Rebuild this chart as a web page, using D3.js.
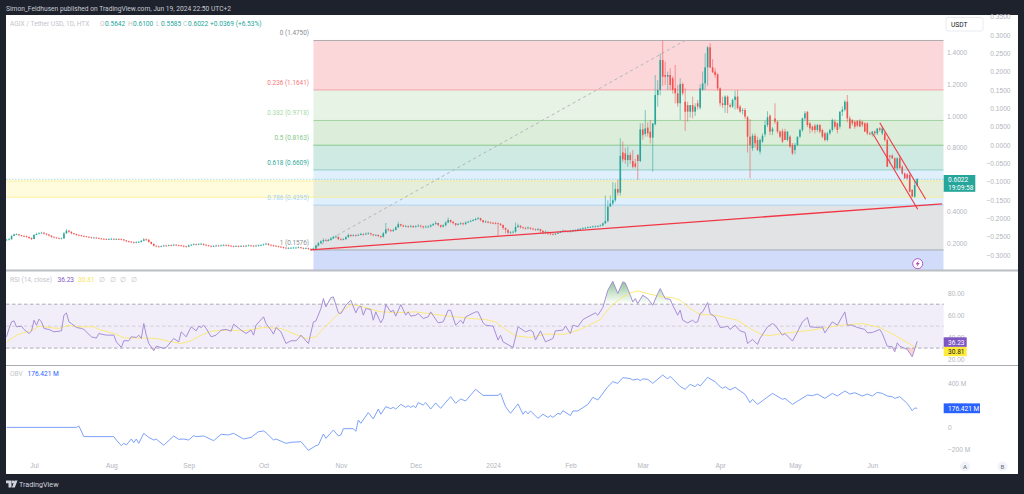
<!DOCTYPE html>
<html>
<head>
<meta charset="utf-8">
<script src="https://cdn.jsdelivr.net/npm/d3@7"></script>
<style>
  html, body { margin: 0; padding: 0; background: #1e222d; overflow: hidden; }
  svg { display: block; font-family: Roboto, "Liberation Sans", sans-serif; }
</style>
</head>
<body>
<script>
// daily candles, first one is Jun 20 2023, last one Jun 19 2024
const startDay = new Date(Date.UTC(2023, 5, 20));

const opens = [
.220,.222,.224,.245,.255,.256,.250,.246,.244,.240,
.233,.226,.252,.258,.262,.266,.260,.255,.248,.240,
.236,.232,.230,.230,.262,.279,.272,.262,.258,.252,
.250,.246,.244,.240,.237,.234,.235,.232,.229,.228,
.226,.225,.226,.227,.226,.226,.225,.224,.218,.212,
.210,.206,.204,.206,.208,.215,.224,.222,.208,.196,
.184,.180,.178,.181,.185,.183,.187,.186,.190,.188,
.186,.184,.180,.178,.186,.190,.193,.192,.195,.196,
.190,.187,.183,.180,.182,.185,.184,.186,.188,.187,
.184,.181,.180,.182,.180,.183,.181,.184,.186,.184,
.183,.185,.186,.188,.192,.197,.190,.186,.184,.182,
.178,.176,.172,.168,.170,.171,.172,.172,.174,.170,
.168,.169,.165,.158,.165,.185,.200,.212,.220,.218,
.220,.230,.238,.241,.226,.223,.225,.238,.252,.246,
.250,.248,.252,.258,.255,.260,.262,.256,.250,.252,
.245,.240,.262,.287,.282,.276,.283,.300,.320,.312,
.306,.308,.304,.308,.302,.306,.310,.306,.300,.304,
.304,.312,.320,.327,.315,.304,.312,.330,.346,.335,
.326,.315,.320,.325,.320,.330,.335,.340,.346,.352,
.357,.345,.333,.336,.330,.328,.327,.326,.322,.315,
.296,.285,.266,.268,.272,.302,.310,.300,.296,.294,
.298,.292,.289,.286,.289,.278,.266,.272,.262,.258,
.256,.260,.266,.272,.279,.275,.272,.276,.279,.282,
.287,.290,.294,.297,.300,.302,.305,.306,.308,.312,
.325,.340,.430,.450,.470,.541,
.518,.771,.765,.723,.755,.717,.702,.755,.717,.916,
.887,.927,.901,.864,.948,1.132,1.164,1.352,1.258,1.247,
1.258,1.237,1.174,1.143,1.080,1.201,1.090,1.069,1.027,1.069,
1.027,1.080,1.052,1.164,1.205,1.306,1.432,1.306,1.279,1.262,
1.174,1.080,1.069,1.122,1.069,1.059,1.101,1.122,1.059,1.038,
1.038,.992,.870,.797,.876,.849,.776,.839,.885,.943,
1.002,.902,.985,.964,.902,.905,.902,.850,.870,.818,
.786,.818,.870,.912,.985,1.027,.954,.933,.939,.912,
.943,.912,.891,.849,.891,.912,.964,.954,.933,1.027,
1.04,1.09,.985,.975,.964,.969,.969,.964,.954,.954,
.891,.885,.902,.891,.922,.891,.891,.849,.751,.751,
.734,.671,.734,.681,.639,.633,.629,.535,.493,.5642];

const highs = [
.226,.232,.252,.260,.262,.258,.252,.250,.248,.242,
.236,.258,.266,.270,.272,.270,.262,.256,.250,.242,
.238,.236,.236,.270,.288,.284,.274,.264,.260,.256,
.252,.250,.246,.243,.240,.240,.238,.236,.233,.232,
.230,.232,.234,.232,.232,.231,.230,.226,.220,.216,
.212,.210,.212,.214,.220,.232,.230,.224,.210,.198,
.186,.184,.186,.190,.190,.192,.192,.196,.194,.192,
.190,.188,.184,.192,.196,.199,.198,.201,.203,.198,
.194,.190,.186,.188,.191,.190,.192,.194,.193,.191,
.187,.186,.188,.187,.189,.188,.190,.192,.190,.189,
.191,.192,.194,.198,.204,.199,.192,.190,.188,.184,
.182,.178,.174,.175,.176,.178,.178,.180,.176,.174,
.174,.172,.166,.172,.192,.208,.218,.230,.228,.228,
.238,.246,.250,.240,.232,.232,.244,.260,.255,.256,
.256,.260,.266,.263,.268,.270,.266,.258,.258,.254,
.248,.270,.327,.296,.288,.292,.308,.335,.322,.316,
.316,.312,.316,.312,.314,.320,.316,.310,.312,.314,
.320,.328,.338,.328,.314,.320,.338,.362,.348,.338,
.325,.328,.332,.330,.338,.342,.348,.352,.360,.366,
.360,.342,.344,.338,.336,.334,.334,.330,.326,.316,
.298,.276,.276,.280,.330,.322,.312,.304,.302,.306,
.300,.296,.292,.296,.290,.280,.280,.272,.266,.264,
.266,.272,.278,.286,.282,.279,.282,.285,.288,.293,
.296,.300,.303,.306,.308,.311,.312,.314,.318,.330,
.50,.47,.50,.585,.58,.60,
.86,.84,.80,.807,.77,.786,.73,.76,.954,.954,
1.038,.96,.975,.954,1.258,1.226,1.394,1.474,1.342,1.279,
1.30,1.25,1.321,1.195,1.237,1.21,1.174,1.09,1.06,1.122,
1.08,1.10,1.20,1.28,1.394,1.44,1.457,1.358,1.30,1.27,
1.18,1.122,1.13,1.13,1.08,1.11,1.16,1.164,1.07,1.05,
1.05,1.0,.98,.89,.89,.87,.86,.89,.97,1.03,
1.01,.93,1.08,.97,.91,.92,.92,.905,.88,.83,
.83,.87,.92,.99,1.03,1.03,.96,.94,.95,.95,
.95,.92,.90,.90,.92,.985,.98,.96,1.03,1.06,
1.10,1.132,1.0,.98,.97,.975,.98,.97,.96,.96,
.90,.905,.91,.92,.93,.935,.90,.86,.755,.76,
.74,.74,.75,.69,.645,.64,.64,.54,.60,.61];

const lows = [
.218,.218,.224,.246,.250,.244,.240,.238,.234,.226,
.220,.226,.250,.255,.258,.254,.248,.242,.234,.230,
.228,.225,.225,.228,.258,.265,.256,.252,.246,.244,
.240,.238,.235,.232,.229,.230,.227,.225,.223,.221,
.220,.221,.222,.221,.221,.220,.218,.212,.206,.204,
.200,.198,.200,.203,.204,.212,.215,.204,.192,.180,
.174,.172,.174,.178,.178,.180,.180,.184,.182,.180,
.178,.174,.172,.174,.184,.186,.186,.188,.190,.184,
.181,.178,.174,.176,.178,.178,.180,.182,.181,.178,
.175,.174,.176,.174,.176,.175,.177,.180,.178,.177,
.179,.180,.182,.184,.190,.184,.180,.178,.176,.172,
.170,.166,.162,.164,.165,.166,.166,.168,.164,.162,
.163,.158,.150,.156,.162,.182,.196,.206,.212,.212,
.216,.226,.234,.220,.216,.218,.222,.234,.240,.242,
.242,.246,.250,.248,.252,.254,.248,.244,.244,.238,
.232,.236,.258,.274,.270,.272,.280,.296,.304,.300,
.300,.296,.298,.295,.298,.302,.298,.292,.296,.296,
.300,.310,.316,.306,.296,.298,.306,.326,.326,.318,
.306,.312,.316,.312,.316,.326,.332,.338,.342,.348,
.338,.326,.328,.324,.322,.320,.318,.247,.308,.285,
.262,.255,.258,.262,.266,.296,.292,.288,.286,.288,
.284,.282,.278,.278,.262,.256,.258,.252,.250,.250,
.250,.258,.264,.268,.268,.265,.266,.270,.274,.278,
.283,.286,.290,.293,.296,.298,.300,.300,.304,.306,
.32,.33,.43,.44,.46,.50,
.50,.71,.70,.681,.70,.671,.67,.598,.71,.85,
.87,.87,.828,.65,.94,1.059,1.13,1.19,1.195,1.164,
1.164,1.14,1.08,1.059,.975,1.13,.906,.964,.99,.985,
1.0,1.04,1.04,1.16,1.164,1.19,1.30,1.27,1.24,1.16,
1.06,1.05,1.02,1.017,1.05,1.05,1.04,1.04,1.02,1.01,
.98,.77,.608,.78,.80,.78,.76,.83,.87,.93,
.88,.88,.95,.89,.86,.83,.85,.84,.80,.755,
.76,.81,.86,.90,.97,.93,.891,.90,.89,.90,
.89,.86,.84,.84,.88,.90,.92,.89,.92,1.0,
1.03,.96,.92,.94,.92,.93,.93,.93,.90,.88,
.88,.87,.88,.88,.90,.88,.84,.68,.70,.73,
.66,.66,.67,.63,.605,.60,.52,.49,.485,.5585];

const closes = [
.222,.224,.245,.255,.256,.250,.246,.244,.240,.233,
.226,.252,.258,.262,.266,.260,.255,.248,.240,.236,
.232,.230,.230,.262,.279,.272,.262,.258,.252,.250,
.246,.244,.240,.237,.234,.235,.232,.229,.228,.226,
.225,.226,.227,.226,.226,.225,.224,.218,.212,.210,
.206,.204,.206,.208,.215,.224,.222,.208,.196,.184,
.180,.178,.181,.185,.183,.187,.186,.190,.188,.186,
.184,.180,.178,.186,.190,.193,.192,.195,.196,.190,
.187,.183,.180,.182,.185,.184,.186,.188,.187,.184,
.181,.180,.182,.180,.183,.181,.184,.186,.184,.183,
.185,.186,.188,.192,.197,.190,.186,.184,.182,.178,
.176,.172,.168,.170,.171,.172,.172,.174,.170,.168,
.169,.165,.158,.165,.185,.200,.212,.220,.218,.220,
.230,.238,.241,.226,.223,.225,.238,.252,.246,.250,
.248,.252,.258,.255,.260,.262,.256,.250,.252,.245,
.240,.262,.287,.282,.276,.283,.300,.320,.312,.306,
.308,.304,.308,.302,.306,.310,.306,.300,.304,.304,
.312,.320,.327,.315,.304,.312,.330,.346,.335,.326,
.315,.320,.325,.320,.330,.335,.340,.346,.352,.357,
.345,.333,.336,.330,.328,.327,.326,.322,.315,.296,
.285,.266,.268,.272,.302,.310,.300,.296,.294,.298,
.292,.289,.286,.289,.278,.266,.272,.262,.258,.256,
.260,.266,.272,.279,.275,.272,.276,.279,.282,.287,
.290,.294,.297,.300,.302,.305,.306,.308,.312,.325,
.340,.430,.450,.470,.541,.518,
.750,.727,.723,.755,.723,.681,.681,.717,.916,.880,
.922,.891,.864,.954,1.132,1.164,1.352,1.247,1.247,1.258,
1.195,1.164,1.143,1.080,1.201,1.143,1.027,1.027,1.069,1.027,
1.059,1.059,1.174,1.205,1.306,1.432,1.306,1.275,1.258,1.174,
1.080,1.069,1.122,1.069,1.059,1.101,1.122,1.048,1.027,1.038,
.996,.870,.818,.876,.828,.786,.849,.876,.943,.992,
.902,.920,.964,.902,.870,.839,.849,.902,.807,.765,
.818,.870,.912,.985,1.017,.943,.922,.912,.912,.943,
.902,.870,.849,.891,.912,.975,.933,.912,1.027,1.04,
1.09,.985,.922,.954,.933,.939,.933,.945,.902,.891,
.885,.902,.891,.922,.912,.922,.849,.681,.744,.734,
.671,.734,.671,.639,.608,.608,.524,.493,.5653,.6022];

// fib retracement
const fibRatios = ["0", "0.236", "0.382", "0.5", "0.618", "0.786", "1"];
const fibPrices = [1.4750, 1.1641, 0.9718, 0.8163, 0.6609, 0.4395, 0.1576];
const fibLineColors = ["#aeaaae", "#f5a3a8", "#a0d4a2", "#8ac78c", "#93cfc5", "#aed5f0", "#a9aaae"];
const fibFillColors = ["#fcd7da", "#e7f3e5", "#dcedda", "#cfe9e3", "#dfeffc", "#e2e3e5", "#d1dcfb"];
const fibTextColors = ["#8a8d94", "#f7777d", "#a8d8aa", "#7fc583", "#2fa99c", "#a5d2f5", "#8a8d94"];
const fibStartDay = 123;

// drawings, day index / price
const fibDiagDays = [122, 272], fibDiagPrices = [0.1576, 1.4750];
const trendDays = [122, 375], trendPrices = [0.1576, 0.4475];
const chanUpperDays = [350, 368.4], chanUpperPrices = [0.958, 0.476];
const chanLowerDays = [347.3, 365.2], chanLowerPrices = [0.887, 0.413];
const zonePrices = [0.591, 0.489];
const lastPrice = 0.6022;

const rsiDays = [0,1,2,3,4,6,7,9,10,11,12,13,14,15,17,19,22,23,24,25,26,28,30,31,34,36,37,40,43,44,46,47,49,50,52,53,54,55,56,57,59,60,63,64,67,69,70,72,74,76,77,78,79,80,82,84,86,88,90,91,94,96,98,99,100,103,104,106,107,108,110,112,114,116,117,118,121,123,124,126,127,128,130,131,133,134,
136,138,140,141,142,143,144,146,147,148,150,151,152,154,155,156,158,160,161,162,164,165,167,169,170,173,175,177,178,180,182,183,184,188,189,191,192,195,197,198,199,203,205,207,208,210,211,212,214,216,219,220,223,224,226,227,229,231,233,236,237,239,241,243,245,247,248,250,251,252,253,255,257,259,261,262,264,266,267,269,270,
271,273,275,276,277,278,279,281,282,284,286,287,289,290,292,294,296,297,299,301,302,305,307,308,311,312,315,317,319,321,322,325,327,328,331,333,336,337,339,341,344,345,347,350,351,353,355,356,357,358,361,363,365];
const rsiValues = [40.3,47.9,53.9,54.8,49.4,50,47,43.3,45.4,55.4,50.9,56.4,53.9,47.9,47,44.8,45.7,60,62.1,53.9,52.4,48.8,47.9,47,40.3,39.1,43.3,41.8,41.8,35.7,30.6,36.7,36.7,40.3,39.7,41.8,38.8,52.4,41.8,34.2,27.6,31.8,29.7,30.6,38.8,35.7,44.8,40.3,49.4,45.7,50,48.8,50.9,47.9,40.3,41.8,46.4,47,45.4,51.8,46.4,43.3,46.4,41.8,50.9,58.5,52.4,46.4,42.7,48.8,44.8,34.2,36.7,36.7,38.8,41.8,34.2,53.9,54.8,66,75.1,67.6,76,76.6,62.1,61.5,
69.1,73.6,62.1,67,68.2,60,66,65.1,55.4,63,53,57,69.7,63,64.5,59.1,69.7,60,63,59.1,60,61.5,57,58.5,63,53,53.9,64.5,64.5,50.9,55.4,52.4,58.5,63,63,53,50.9,50,37.3,41.8,35.7,30.6,49.4,46.4,44.8,46.4,44.8,37.3,45.7,35.7,38.8,45.7,46.4,50,43.3,50.9,49.4,56,58.5,62.1,60,67,82.7,90.9,79.7,90.3,89.4,78.2,72.1,75.1,70.6,78.2,75.1,69.1,79.7,84.2,75.1,74.5,69.1,60,64.5,
55.4,53,55.4,53.3,53.9,61.5,63,71.5,61.5,58.5,48.8,48.8,50,47,50.9,45.7,44.2,34.2,37.9,33.3,38.8,49.4,52.4,50.9,41.8,43.3,36.4,44.8,53.9,57.9,49.4,48.8,49.4,43.9,53.9,50.9,63,50.9,50.9,48.8,47,43.9,44.2,47,43.3,31.8,31.2,26.7,34.8,31.8,28.8,22.1,36.23];

const rsiMaDays = [0,4,8,11,13,17,21,25,29,35,37,43,47,55,60,64,70,74,78,82,88,95,103,110,115,120,124,127,131,134,138,142,150,158,164,174,186,192,196,200,204,210,216,224,230,238,242,246,250,253,258,263,267,270,274,278,284,293,298,303,306,314,323,329,335,343,350,356,364,365];
const rsiMaValues = [35.7,41.8,44.8,47,50,48.8,47.9,50.9,49.4,49.4,47,43.3,39.4,39.1,38.8,36.7,34.2,36.7,41.8,45.4,46.4,45.7,48.8,47.9,43.3,38.8,40.3,47.9,57,63,69.7,68.2,63,62.4,63,60,57,56,53.9,47,41.2,39.7,42.7,42.7,47,56,67.6,75.1,80.3,82.1,79.1,76.7,76,73.6,66,60.6,60,55.4,47.9,41.8,41.5,44.2,46.4,48.8,50.9,52.4,48.8,41.8,31.2,30.81];

const obvDays = [0,28,29,31,43,44,46,47,48,50,51,52,53,55,57,59,60,63,67,69,71,73,75,76,79,83,86,89,91,95,98,101,103,104,107,108,112,114,118,121,124,125,127,128,131,133,134,
135,139,140,141,142,145,147,149,150,152,154,155,156,158,160,161,162,163,164,165,167,168,170,172,174,178,180,182,184,188,191,197,198,200,202,205,207,208,209,210,213,215,217,218,219,221,222,223,226,227,229,233,235,237,241,243,245,247,250,251,253,254,255,257,259,263,265,266,270,
272,274,276,277,278,281,284,286,287,288,290,292,296,298,299,301,307,311,312,315,321,323,325,328,331,333,336,338,340,343,345,347,349,351,353,355,356,358,361,363,364,365];
const obvValues = [3,3,15,-81,-81,-112,-163,-142,-157,-103,-136,-103,-142,-51,-88,-112,-103,-160,-75,-106,-103,-112,-72,-81,-75,-118,-60,-66,-51,-103,-88,-36,-30,-45,-112,-103,-142,-133,-127,-206,-163,-157,-57,-97,-21,-75,-66,
-9,-9,-33,70,40,137,79,170,122,191,173,185,170,212,185,200,185,200,182,228,206,228,170,225,176,282,222,261,243,349,294,294,312,191,131,216,122,152,125,152,85,122,94,110,94,131,122,155,110,152,152,212,276,252,373,418,403,455,446,434,443,428,443,440,403,479,443,467,375,
349,394,373,397,379,458,418,373,358,373,343,367,303,228,258,212,312,258,267,212,297,291,306,267,312,288,334,306,318,288,306,288,321,312,288,282,267,282,221,155,179,176.421];

// axis ticks
const priceTicks = [1.4, 1.2, 1.0, 0.8, 0.4, 0.2];
const outerTicks = [0.35, 0.3, 0.25, 0.2, 0.15, 0.1, 0.05, 0, -0.05, -0.1, -0.15, -0.2, -0.25, -0.3];
const rsiTicks = [80, 60, 40, 20];
const rsiLevels = [70, 50, 30];
const obvTicks = [400, 200, 0, -200];
const monthDates = [[2023,6],[2023,7],[2023,8],[2023,9],[2023,10],[2023,11],[2024,0],[2024,1],[2024,2],[2024,3],[2024,4],[2024,5]];
const monthNames = ["Jul", "Aug", "Sep", "Oct", "Nov", "Dec", "2024", "Feb", "Mar", "Apr", "May", "Jun"];

const up = "#26a69a", down = "#ef5350", red = "#f23645";
const axisGrey = "#b2b5be";
const plotL = 6, plotR = 943.7, priceB = 270;

const svg = d3.select("body").append("svg").attr("width", 1024).attr("height", 494);
const defs = svg.append("defs");

svg.append("rect").attr("x", plotL).attr("y", 15).attr("width", 1012).attr("height", 459).attr("fill", "#fff");

const dayDate = i => d3.utcDay.offset(startDay, Math.floor(i)).getTime() + (i % 1) * 864e5;
const x = d3.scaleUtc()
  .domain([Date.UTC(2023, 6, 1), Date.UTC(2024, 5, 19)])
  .range([34, 917.2]);
const xd = i => x(dayDate(i));

const yPrice = d3.scaleLinear().domain([0.2, 1.4]).range([243.2, 52.4]);
const yOuter = d3.scaleLinear().domain([-0.3, 0.35]).range([255, 16.7]);
const yRsi = d3.scaleLinear().domain([30, 70]).range([348.1, 304.2]);
const yObv = d3.scaleLinear().domain([-200, 400]).range([449.7, 383.7]);

defs.append("clipPath").attr("id", "pricePane").append("rect")
  .attr("x", plotL).attr("y", 15).attr("width", plotR - plotL).attr("height", priceB - 15);
defs.append("clipPath").attr("id", "aboveRsi").append("rect")
  .attr("x", plotL).attr("y", 271).attr("width", plotR - plotL).attr("height", yRsi(70) - 271);
defs.append("clipPath").attr("id", "belowRsi").append("rect")
  .attr("x", plotL).attr("y", yRsi(30)).attr("width", plotR - plotL).attr("height", 365 - yRsi(30));

const price = svg.append("g").attr("clip-path", "url(#pricePane)");

// fib bands, the last one runs off the pane
const fibLeft = xd(fibStartDay);
price.selectAll("rect.fib").data(fibPrices).enter().append("rect")
  .attr("class", "fib")
  .attr("x", fibLeft)
  .attr("y", d => yPrice(d))
  .attr("width", plotR - fibLeft)
  .attr("height", (d, i) => (i < fibPrices.length - 1 ? yPrice(fibPrices[i + 1]) : priceB) - yPrice(d))
  .attr("fill", (d, i) => fibFillColors[i]);
price.selectAll("line.fib").data(fibPrices).enter().append("line")
  .attr("class", "fib")
  .attr("x1", fibLeft).attr("x2", plotR)
  .attr("y1", d => yPrice(d)).attr("y2", d => yPrice(d))
  .attr("stroke", (d, i) => fibLineColors[i]).attr("stroke-width", 1);

// yellow zone across the whole pane
price.append("rect")
  .attr("x", plotL).attr("width", plotR - plotL)
  .attr("y", yPrice(zonePrices[0]))
  .attr("height", yPrice(zonePrices[1]) - yPrice(zonePrices[0]))
  .attr("fill", "#ffeb3b").attr("fill-opacity", 0.17);
zonePrices.forEach(function(p) {
  price.append("line").attr("x1", plotL).attr("x2", plotR)
    .attr("y1", yPrice(p)).attr("y2", yPrice(p))
    .attr("stroke", "#fbeb8c").attr("stroke-width", 0.8);
});

// fib diagonal
price.append("line")
  .attr("x1", xd(fibDiagDays[0])).attr("y1", yPrice(fibDiagPrices[0]))
  .attr("x2", xd(fibDiagDays[1])).attr("y2", yPrice(fibDiagPrices[1]))
  .attr("stroke", "#b4b5b8").attr("stroke-width", 1).attr("stroke-dasharray", "3 3");

// candles
closes.forEach(function(c, i) {
  var o = opens[i];
  var col = c >= o ? up : down;
  price.append("line")
    .attr("x1", xd(i)).attr("x2", xd(i))
    .attr("y1", yPrice(highs[i])).attr("y2", yPrice(lows[i]))
    .attr("stroke", col).attr("stroke-width", 0.8).attr("stroke-opacity", 0.7);
  price.append("rect")
    .attr("x", xd(i) - 0.8).attr("width", 1.6)
    .attr("y", yPrice(Math.max(o, c)))
    .attr("height", Math.max(0.7, Math.abs(yPrice(o) - yPrice(c))))
    .attr("fill", col);
});

// last price dotted line
price.append("line").attr("x1", plotL).attr("x2", plotR)
  .attr("y1", yPrice(lastPrice)).attr("y2", yPrice(lastPrice))
  .attr("stroke", up).attr("stroke-opacity", 0.5).attr("stroke-width", 0.7).attr("stroke-dasharray", "1.5 1.5");

// trend line and channel
[[trendDays, trendPrices, 1.3], [chanUpperDays, chanUpperPrices, 1.1], [chanLowerDays, chanLowerPrices, 1.1]].forEach(function(t) {
  price.append("line")
    .attr("x1", xd(t[0][0])).attr("y1", yPrice(t[1][0]))
    .attr("x2", xd(t[0][1])).attr("y2", yPrice(t[1][1]))
    .attr("stroke", red).attr("stroke-width", t[2]);
});

// fib labels
svg.selectAll("text.fib").data(fibPrices).enter().append("text")
  .attr("class", "fib")
  .attr("x", 309).attr("y", d => yPrice(d) - 5.2)
  .attr("text-anchor", "end").attr("font-size", 6.4)
  .attr("fill", (d, i) => fibTextColors[i])
  .text((d, i) => fibRatios[i] + " (" + d.toFixed(4) + ")");

// panes
function cleanAxis(g) {
  g.select(".domain").remove();
  g.selectAll(".tick line").remove();
  g.selectAll("text").attr("fill", axisGrey).attr("font-size", 6.6).attr("font-family", null);
}

svg.append("g").attr("transform", "translate(947,0)")
  .call(d3.axisRight(yPrice).tickValues(priceTicks).tickFormat(d3.format(".4f")).tickSize(0).tickPadding(0))
  .call(cleanAxis);
svg.append("g").attr("transform", "translate(1010.5,0)")
  .call(d3.axisLeft(yOuter).tickValues(outerTicks).tickFormat(d3.format(".4f")).tickSize(0).tickPadding(0))
  .call(cleanAxis);

// rsi
const rsiPts = rsiDays.map((d, i) => [d, rsiValues[i]]);
const rsiMaPts = rsiMaDays.map((d, i) => [d, rsiMaValues[i]]);
const obvPts = obvDays.map((d, i) => [d, obvValues[i]]);
const rsiLine = d3.line().x(d => xd(d[0])).y(d => yRsi(d[1]));

svg.append("rect").attr("x", plotL).attr("width", plotR - plotL)
  .attr("y", yRsi(70)).attr("height", yRsi(30) - yRsi(70))
  .attr("fill", "#7e57c2").attr("fill-opacity", 0.1);

const greenGrad = defs.append("linearGradient").attr("id", "rsiOver")
  .attr("gradientUnits", "userSpaceOnUse").attr("x1", 0).attr("x2", 0).attr("y1", yRsi(92)).attr("y2", yRsi(70));
greenGrad.append("stop").attr("offset", 0).attr("stop-color", "#388e3c").attr("stop-opacity", 0.6);
greenGrad.append("stop").attr("offset", 1).attr("stop-color", "#4caf50").attr("stop-opacity", 0);
svg.append("path").datum(rsiPts).attr("clip-path", "url(#aboveRsi)").attr("fill", "url(#rsiOver)")
  .attr("d", d3.area().x(d => xd(d[0])).y0(yRsi(70)).y1(d => yRsi(d[1])));
svg.append("path").datum(rsiPts).attr("clip-path", "url(#belowRsi)").attr("fill", "#ef5350").attr("fill-opacity", 0.25)
  .attr("d", d3.area().x(d => xd(d[0])).y0(yRsi(30)).y1(d => yRsi(d[1])));

svg.selectAll("line.rsilevel").data(rsiLevels).enter().append("line")
  .attr("class", "rsilevel")
  .attr("x1", plotL).attr("x2", plotR)
  .attr("y1", d => yRsi(d)).attr("y2", d => yRsi(d))
  .attr("stroke", d => d == 50 ? "#c9c6cf" : "#9b98a3")
  .attr("stroke-width", 0.8).attr("stroke-dasharray", "3.5 2.5");

svg.append("path").datum(rsiMaPts).attr("fill", "none").attr("stroke", "#fbe97a").attr("stroke-width", 1).attr("d", rsiLine);
svg.append("path").datum(rsiPts).attr("fill", "none").attr("stroke", "#a78fd8").attr("stroke-width", 1).attr("d", rsiLine);

svg.append("g").attr("transform", "translate(948,0)")
  .call(d3.axisRight(yRsi).tickValues(rsiTicks).tickFormat(d3.format(".2f")).tickSize(0).tickPadding(0))
  .call(cleanAxis);

// obv
svg.append("path").datum(obvPts).attr("fill", "none").attr("stroke", "#7ea2fa").attr("stroke-width", 1)
  .attr("d", d3.line().x(d => xd(d[0])).y(d => yObv(d[1])));
svg.append("g").attr("transform", "translate(948,0)")
  .call(d3.axisRight(yObv).tickValues(obvTicks)
    .tickFormat(v => v == 0 ? "0" : (v < 0 ? "\u2212" + (-v) : v) + " M").tickSize(0).tickPadding(0))
  .call(cleanAxis);

// separators
[270.5, 365.5].forEach(function(y) {
  svg.append("line").attr("x1", plotL).attr("x2", 1018).attr("y1", y).attr("y2", y)
    .attr("stroke", y < 300 ? "#bcbec4" : "#a9abb0").attr("stroke-width", y < 300 ? 2 : 1);
});

// time axis
svg.append("g").attr("transform", "translate(0,463.5)")
  .call(d3.axisBottom(x)
    .tickValues(monthDates.map(d => new Date(Date.UTC(d[0], d[1], 1))))
    .tickFormat((d, i) => monthNames[i]).tickSize(0).tickPadding(0))
  .call(cleanAxis);

// text helper for legends and tags
function label(str, px, py, col, size, anchor, weight) {
  return svg.append("text").attr("x", px).attr("y", py).attr("fill", col)
    .attr("font-size", size || 6.6).attr("text-anchor", anchor || "start")
    .attr("font-weight", weight || null).text(str);
}

// header
label("Simon_Feldhusen published on TradingView.com, Jun 19, 2024 22:50 UTC+2", 6, 10.5, "#c8cbd3", 6.65);

// legends
label("AGIX / Tether USD, 1D, HTX", 10, 25.5, "#c3c5cb", 6.6);
[["O", "0.5642", 100], ["H", "0.6100", 128], ["L", "0.5585", 156], ["C", "0.6022", 183]].forEach(function(o) {
  label(o[0], o[2], 25.5, "#c3c5cb", 6.6);
  label(o[1], o[2] + 5, 25.5, up, 6.6);
});
label("+0.0369 (+6.53%)", 210, 25.5, up, 6.6);

label("RSI (14, close)", 10, 282, "#c3c5cb", 6.6);
label("36.23", 57.5, 282, "#7e57c2", 6.6);
label("30.81", 78, 282, "#f9e55e", 6.6);
[98.5, 109.5, 120, 131].forEach(px => label("\u2205", px, 282, "#c3c5cb", 6.6));

label("OBV", 10, 376, "#c3c5cb", 6.6);
label("176.421 M", 27.5, 376, "#2962ff", 6.6);

// price scale tags
svg.append("rect").attr("x", 943.7).attr("y", 175).attr("width", 31.6).attr("height", 16.8).attr("fill", up);
label(lastPrice.toFixed(4), 948, 181.8, "#fff", 6.6);
label("19:09:58", 948, 189.5, "#fff", 6.6);
svg.append("rect").attr("x", 943.7).attr("y", 337.3).attr("width", 23).attr("height", 9.6).attr("fill", "#7e57c2");
label("36.23", 948, 344.6, "#fff", 6.6);
svg.append("rect").attr("x", 943.7).attr("y", 346.9).attr("width", 23).attr("height", 9.3).attr("fill", "#ffeb3b");
label("30.81", 948, 354, "#131722", 6.6);
svg.append("rect").attr("x", 943.7).attr("y", 403.4).attr("width", 36.3).attr("height", 9.8).attr("fill", "#2962ff");
label("176.421 M", 948, 410.8, "#fff", 6.6);

// usdt button
svg.append("rect").attr("x", 946).attr("y", 17.5).attr("width", 37).attr("height", 13.5).attr("rx", 2)
  .attr("fill", "#fff").attr("stroke", "#e0e3eb").attr("stroke-width", 0.7);
label("USDT", 951, 26.7, "#131722", 6.6);

// A / B buttons
[["A", 965], ["B", 1002.5]].forEach(function(b) {
  svg.append("circle").attr("cx", b[1]).attr("cy", 466.5).attr("r", 5).attr("fill", "#f0f3fa");
  label(b[0], b[1], 468.8, "#6a6d78", 6.2, "middle");
});

// lightning badge
svg.append("circle").attr("cx", 917.7).attr("cy", 263.7).attr("r", 5).attr("fill", "#fff")
  .attr("stroke", "#ab47bc").attr("stroke-width", 0.9);
svg.append("path").attr("fill", "#ab47bc")
  .attr("d", "M918.9 260.4 L915.6 264.3 L917.5 264.3 L916.5 267 L919.8 263.1 L917.9 263.1 Z");

// tradingview footer logo
svg.append("path").attr("fill", "#d1d4dc")
  .attr("d", "M6 480.5 H11.5 V487.5 H8.5 V483.3 H6 Z M14.8 487.5 H11.9 L14.6 480.5 H17.5 Z");
svg.append("circle").attr("cx", 13).attr("cy", 482).attr("r", 1.4).attr("fill", "#d1d4dc");
label("TradingView", 19, 487, "#d1d4dc", 7.2);
</script>
</body>
</html>
